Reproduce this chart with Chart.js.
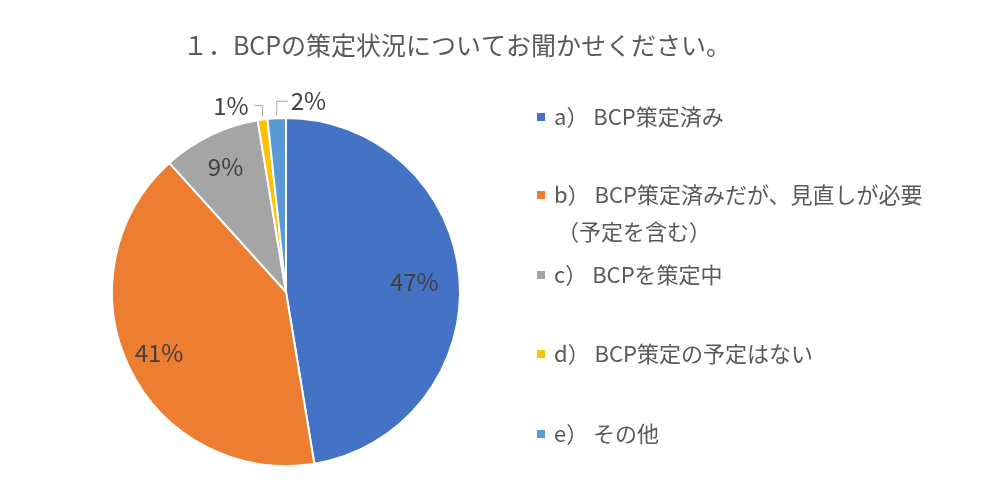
<!DOCTYPE html>
<html>
<head>
<meta charset="utf-8">
<script src="https://cdn.jsdelivr.net/npm/chart.js@4.4.0/dist/chart.umd.min.js"></script>
<style>
html, body { margin: 0; padding: 0; background: #fff; }
#wrap { width: 1000px; height: 496px; }
</style>
</head>
<body>
<div id="wrap"><canvas id="bcpPie" width="1000" height="496"></canvas></div>
<script>
const chartTitle = '１．BCPの策定状況についてお聞かせください。';
const categories = [
    ['a） BCP策定済み'],
    ['b） BCP策定済みだが、見直しが必要', '（予定を含む）'],
    ['c） BCPを策定中'],
    ['d） BCP策定の予定はない'],
    ['e） その他']
];
// shares (%); labels show them rounded
const shareValues = [47.4, 40.9, 9.1, 0.9, 1.7];
const sliceColors = ['#4472C4', '#ED7D31', '#A5A5A5', '#FFC000', '#5B9BD5'];

const FONT = '"Noto Sans CJK JP", "Noto Sans", sans-serif';
const textColor = '#595959';
const labelColor = '#404040';

// where each percentage label sits: inside at a radius ratio, or outside with a leader
const labelPlacement = [
    { ratio: 0.74 },
    { ratio: 0.81 },
    { ratio: 0.80 },
    { outside: 'left', dx: -14, dy: -14 },
    { outside: 'right', dx: 14, dy: -17 }
];

const pieDecorations = {
    id: 'pieDecorations',
    afterDatasetsDraw (chart) {
        const ctx = chart.ctx;
        const arcs = chart.getDatasetMeta(0).data;
        ctx.save();
        ctx.font = `24px ${FONT}`;
        ctx.fillStyle = labelColor;
        ctx.textBaseline = 'middle';
        arcs.forEach((arc, i) => {
            const p = arc.getProps(['x', 'y', 'startAngle', 'endAngle', 'outerRadius']);
            const mid = (p.startAngle + p.endAngle) / 2;
            const text = Math.round(shareValues[i]) + '%';
            const place = labelPlacement[i];
            if (!place.outside) {
                const r = p.outerRadius * place.ratio;
                ctx.textAlign = 'center';
                ctx.fillText(text, p.x + Math.cos(mid) * r, p.y + Math.sin(mid) * r);
                return;
            }
            const ox = p.x + Math.cos(mid) * p.outerRadius;
            const oy = p.y + Math.sin(mid) * p.outerRadius;
            const ty = oy + place.dy;
            const tx = ox + place.dx;
            ctx.strokeStyle = '#A6A6A6';
            ctx.lineWidth = 1;
            ctx.beginPath();
            ctx.moveTo(ox, oy - 3);
            ctx.lineTo(ox, ty);
            ctx.lineTo(place.outside === 'left' ? tx + 6 : tx - 3, ty);
            ctx.stroke();
            ctx.textAlign = place.outside === 'left' ? 'right' : 'left';
            ctx.fillText(text, tx, ty);
        });
        ctx.restore();
    },
    afterDraw (chart) {
        const ctx = chart.ctx;
        ctx.save();
        ctx.fillStyle = textColor;
        ctx.textBaseline = 'middle';

        ctx.font = `25px ${FONT}`;
        ctx.textAlign = 'center';
        ctx.fillText(chartTitle, 457, 45);

        // legend
        const legendX = 537;
        const rowY = [117, 195, 275, 354, 434];
        const lineGap = 37;
        ctx.font = `22px ${FONT}`;
        ctx.textAlign = 'left';
        categories.forEach((lines, i) => {
            ctx.fillStyle = sliceColors[i];
            ctx.fillRect(legendX, rowY[i] - 4, 8, 8);
            ctx.fillStyle = textColor;
            lines.forEach((line, j) => {
                ctx.fillText(line, legendX + 17 + (j ? 3 : 0), rowY[i] + j * lineGap);
            });
        });
        ctx.restore();
    }
};

new Chart(document.getElementById('bcpPie'), {
    type: 'pie',
    data: {
        labels: categories.map(c => c.join('')),
        datasets: [{
            data: shareValues,
            backgroundColor: sliceColors,
            borderColor: '#FFFFFF',
            borderWidth: 2
        }]
    },
    plugins: [pieDecorations],
    options: {
        responsive: false,
        devicePixelRatio: 1,
        animation: false,
        layout: {
            padding: { top: 117, bottom: 29, left: 111, right: 539 }
        },
        plugins: {
            legend: { display: false },
            title: { display: false },
            tooltip: { enabled: false }
        }
    }
});
</script>
</body>
</html>
